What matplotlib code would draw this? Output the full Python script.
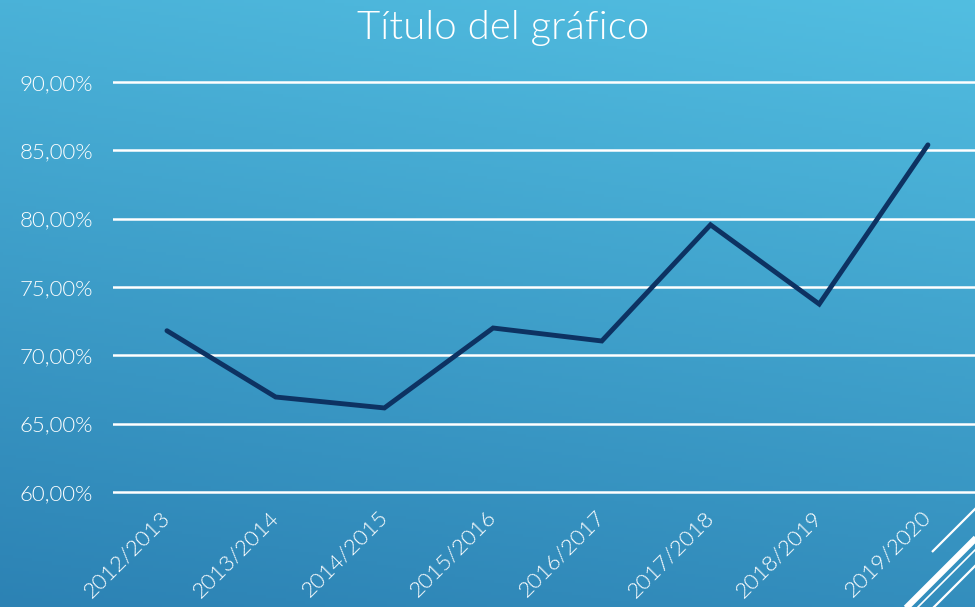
import matplotlib.pyplot as plt
import numpy as np

categories = ["2012/2013", "2013/2014", "2014/2015", "2015/2016",
              "2016/2017", "2017/2018", "2018/2019", "2019/2020"]
values = [71.8, 66.95, 66.15, 72.0, 71.05, 79.55, 73.75, 85.4]
yticks = [60, 65, 70, 75, 80, 85, 90]

font = "Lato"
W, H = 975, 607
fig = plt.figure(figsize=(W / 100, H / 100), dpi=100)

# gradient background, lighter top right, darker bottom left
bg = fig.add_axes([0, 0, 1, 1])
yy, xx = np.mgrid[0:1:200j, 0:1:300j]
t = np.clip(0.8 * (1 - yy) + 0.2 * xx, 0, 1)[..., None]
dark = np.array([44, 130, 180]) / 255
light = np.array([82, 190, 225]) / 255
bg.imshow(dark + (light - dark) * t, aspect="auto", extent=[0, 1, 0, 1])
bg.set_xlim(0, 1)
bg.set_ylim(0, 1)
bg.axis("off")

# decorative strokes in the corner
def px(x, y):
    return [x / W, (H - y) / H]

for (x0, y0, x1, y1, lw) in [(932, 552, 978, 506, 1.6),
                             (905, 609, 978, 536, 4.5),
                             (916, 609, 978, 547, 1.2),
                             (932, 609, 978, 563, 1.6)]:
    a, b = px(x0, y0), px(x1, y1)
    bg.plot([a[0], b[0]], [a[1], b[1]], color="white", lw=lw,
            solid_capstyle="butt")

pad = 0.2
ppu = 410 / 30
left = 112.6
width = 108.71 * 8
bottom = H - 492 - pad * ppu
height = (30 + 2 * pad) * ppu
ax = fig.add_axes([left / W, bottom / H, width / W, height / H])
ax.patch.set_alpha(0)

x = np.arange(len(categories))
ax.plot(x, values, color="#0d3262", lw=3.5, solid_capstyle="round",
        solid_joinstyle="miter", zorder=3)

ax.set_xlim(-0.5, len(categories) - 0.5)
ax.set_ylim(60 - pad, 90 + pad)
ax.set_yticks(yticks)
ax.set_yticklabels([f"{v},00%" for v in yticks], fontsize=16,
                   color="white", family=font, fontweight=300)
ax.set_xticks(x)
ax.set_xticklabels(categories, rotation=45, ha="right", va="center",
                   rotation_mode="anchor", fontsize=16, color="white",
                   family=font, fontweight=300)
ax.tick_params(length=0)
ax.tick_params(axis="y", pad=14)
ax.tick_params(axis="x", pad=14)
ax.grid(axis="y", color="white", lw=1.8)
ax.set_axisbelow(True)
for s in ax.spines.values():
    s.set_visible(False)

fig.text(503 / W, 1 - 28 / H, "Título del gráfico", ha="center",
         va="center", fontsize=29, color="white", family=font,
         fontweight=300)

fig.savefig("out.png", dpi=100)
